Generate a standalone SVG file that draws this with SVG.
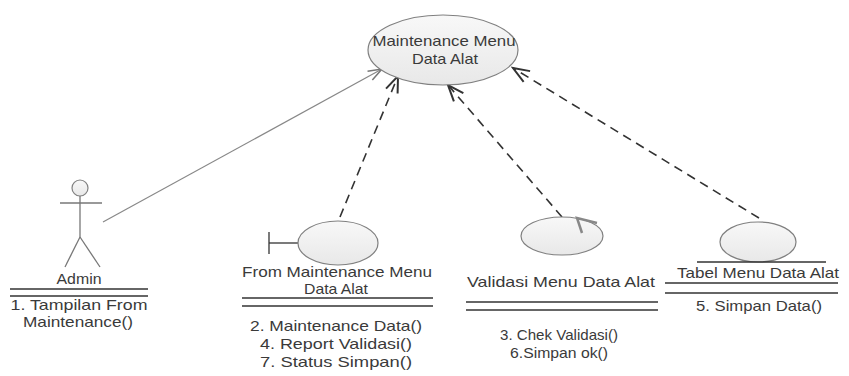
<svg xmlns="http://www.w3.org/2000/svg" width="849" height="376" viewBox="0 0 849 376">
<defs>
<linearGradient id="g" x1="0" y1="0" x2="0" y2="1">
<stop offset="0" stop-color="#f8f8f8"/>
<stop offset="1" stop-color="#e8e8e8"/>
</linearGradient>
<marker id="arr" markerUnits="userSpaceOnUse" markerWidth="20" markerHeight="20" viewBox="-14 -8 16 16" refX="0" refY="0" orient="auto">
<path d="M-13,-5 L0,0 L-13,5" fill="none" stroke="#333" stroke-width="1.6"/>
</marker>
<marker id="arr2" markerUnits="userSpaceOnUse" markerWidth="20" markerHeight="20" viewBox="-14 -8 16 16" refX="0" refY="0" orient="auto">
<path d="M-11,-4 L0,0 L-11,4" fill="none" stroke="#777" stroke-width="1.2"/>
</marker>
</defs>
<style>
.sh{fill:url(#g);stroke:#808080;stroke-width:1.2}
.ln{stroke:#333;stroke-width:1.3;fill:none}
.st{stroke:#777;stroke-width:1.3;fill:none}
text{font-family:"Liberation Sans",Arial,sans-serif;font-size:15px;fill:#3a3a3a;text-anchor:middle}
.dash{stroke:#333;stroke-width:1.6;stroke-dasharray:9,6;fill:none}
</style>
<rect width="849" height="376" fill="#fff"/>
<g id="connectors">
<line x1="103" y1="222" x2="382" y2="69" stroke="#888" stroke-width="1.2" marker-end="url(#arr2)"/>
<line class="dash" x1="340" y1="217" x2="398" y2="76" marker-end="url(#arr)"/>
<line class="dash" x1="562" y1="217" x2="448" y2="85" marker-end="url(#arr)"/>
<line class="dash" x1="759" y1="218" x2="513" y2="68" marker-end="url(#arr)"/>
</g>
<g id="usecase">
<ellipse class="sh" cx="443" cy="50" rx="75" ry="35"/>
<text x="444" y="46" textLength="143" lengthAdjust="spacingAndGlyphs">Maintenance Menu</text>
<text x="445" y="64" textLength="66" lengthAdjust="spacingAndGlyphs">Data Alat</text>
</g>
<g id="admin">
<circle class="sh" cx="80" cy="188" r="8"/>
<line class="st" x1="60" y1="203" x2="102" y2="203"/>
<line class="st" x1="80" y1="196" x2="80" y2="237"/>
<line class="st" x1="80" y1="237" x2="65" y2="267"/>
<line class="st" x1="80" y1="237" x2="100" y2="267"/>
<text x="79" y="284" textLength="45" lengthAdjust="spacingAndGlyphs">Admin</text>
<line class="ln" x1="10" y1="289" x2="148" y2="289"/>
<line class="ln" x1="10" y1="296" x2="148" y2="296"/>
<text x="79" y="310" textLength="137" lengthAdjust="spacingAndGlyphs">1. Tampilan From</text>
<text x="78" y="327" textLength="110" lengthAdjust="spacingAndGlyphs">Maintenance()</text>
</g>
<g id="boundary">
<line class="ln" x1="269" y1="232" x2="269" y2="254"/>
<line class="ln" x1="269" y1="243" x2="298" y2="243"/>
<ellipse class="sh" cx="338" cy="243" rx="40" ry="22"/>
<text x="337" y="277" textLength="190" lengthAdjust="spacingAndGlyphs">From Maintenance Menu</text>
<text x="336" y="294" textLength="64" lengthAdjust="spacingAndGlyphs">Data Alat</text>
<line class="ln" x1="242" y1="298" x2="433" y2="298"/>
<line class="ln" x1="242" y1="306" x2="433" y2="306"/>
<text x="336" y="331" textLength="172" lengthAdjust="spacingAndGlyphs">2. Maintenance Data()</text>
<text x="336" y="349" textLength="152" lengthAdjust="spacingAndGlyphs">4. Report Validasi()</text>
<text x="336" y="367" textLength="152" lengthAdjust="spacingAndGlyphs">7. Status Simpan()</text>
</g>
<g id="control">
<ellipse class="sh" cx="562" cy="236" rx="41" ry="19"/>
<path d="M597,223 L577,218 L582,233" fill="none" stroke="#888" stroke-width="2.5"/>
<text x="561" y="287" textLength="188" lengthAdjust="spacingAndGlyphs">Validasi Menu Data Alat</text>
<line class="ln" x1="466" y1="302" x2="658" y2="302"/>
<line class="ln" x1="466" y1="310" x2="658" y2="310"/>
<text x="559" y="340" textLength="118" lengthAdjust="spacingAndGlyphs">3. Chek Validasi()</text>
<text x="559" y="358" textLength="98" lengthAdjust="spacingAndGlyphs">6.Simpan ok()</text>
</g>
<g id="entity">
<ellipse class="sh" cx="758" cy="242" rx="38" ry="20"/>
<line class="ln" x1="697" y1="262" x2="826" y2="262"/>
<text x="758" y="278" textLength="162" lengthAdjust="spacingAndGlyphs">Tabel Menu Data Alat</text>
<line class="ln" x1="665" y1="283" x2="838" y2="283"/>
<line class="ln" x1="665" y1="293" x2="838" y2="293"/>
<text x="759" y="311" textLength="126" lengthAdjust="spacingAndGlyphs">5. Simpan Data()</text>
</g>
</svg>
